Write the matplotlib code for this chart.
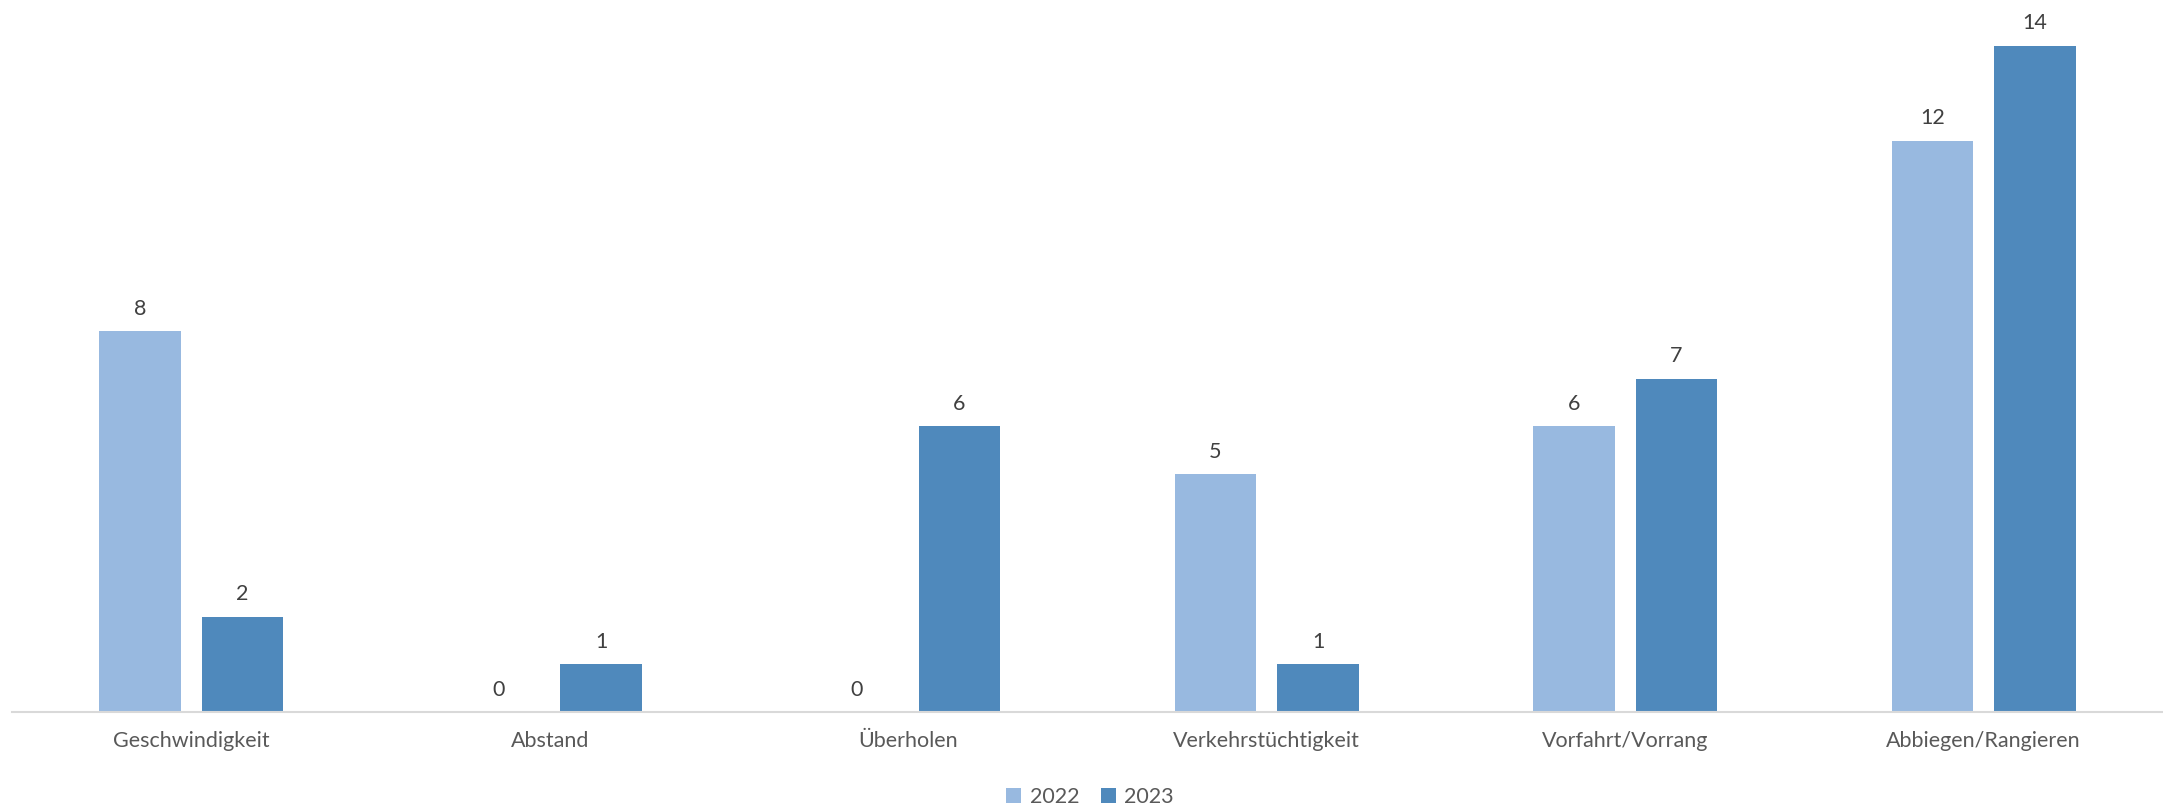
import numpy as np
import matplotlib.pyplot as plt

# Data
categories = ['Geschwindigkeit', 'Abstand', 'Überholen', 'Verkehrstüchtigkeit',
              'Vorfahrt/Vorrang', 'Abbiegen/Rangieren']
values_2022 = [8, 0, 0, 5, 6, 12]
values_2023 = [2, 1, 6, 1, 7, 14]
series_names = ['2022', '2023']

color_2022 = '#98B9E0'
color_2023 = '#4F89BC'

plt.rcParams['font.family'] = ['Lato', 'DejaVu Sans']

fig = plt.figure(figsize=(21.63, 8.08), dpi=100)
ax = fig.add_axes([12 / 2163, 1 - 712 / 808, 1 - 12 / 2163, 712 / 808])

x = np.arange(len(categories))
width = 0.227
offset = 0.143

bars_a = ax.bar(x - offset, values_2022, width, color=color_2022, label=series_names[0])
bars_b = ax.bar(x + offset, values_2023, width, color=color_2023, label=series_names[1])

# Value labels above bars
for bars in (bars_a, bars_b):
    for b in bars:
        ax.annotate(f'{int(b.get_height())}', (b.get_x() + b.get_width() / 2, b.get_height()),
                    xytext=(0, 9), textcoords='offset points', ha='center', va='bottom',
                    fontsize=15.5, color='#404040')

ax.set_xlim(-0.5, len(categories) - 0.5)
ax.set_ylim(0, 712 / 47.6)
ax.set_xticks(x)
ax.set_xticklabels(categories, fontsize=15.5, color='#595959')
ax.tick_params(axis='x', length=0, pad=14)
ax.set_yticks([])

for side in ('top', 'right', 'left'):
    ax.spines[side].set_visible(False)
ax.spines['bottom'].set_color('#D9D9D9')
ax.spines['bottom'].set_linewidth(1.5)

fig.legend(loc='center', bbox_to_anchor=(1090 / 2163, 1 - 797 / 808), ncol=2, frameon=False,
           fontsize=15.5, labelcolor='#595959', handlelength=0.7, handleheight=0.7,
           handletextpad=0.4, columnspacing=1.0, borderpad=0)

fig.savefig('out.png', dpi=100)
